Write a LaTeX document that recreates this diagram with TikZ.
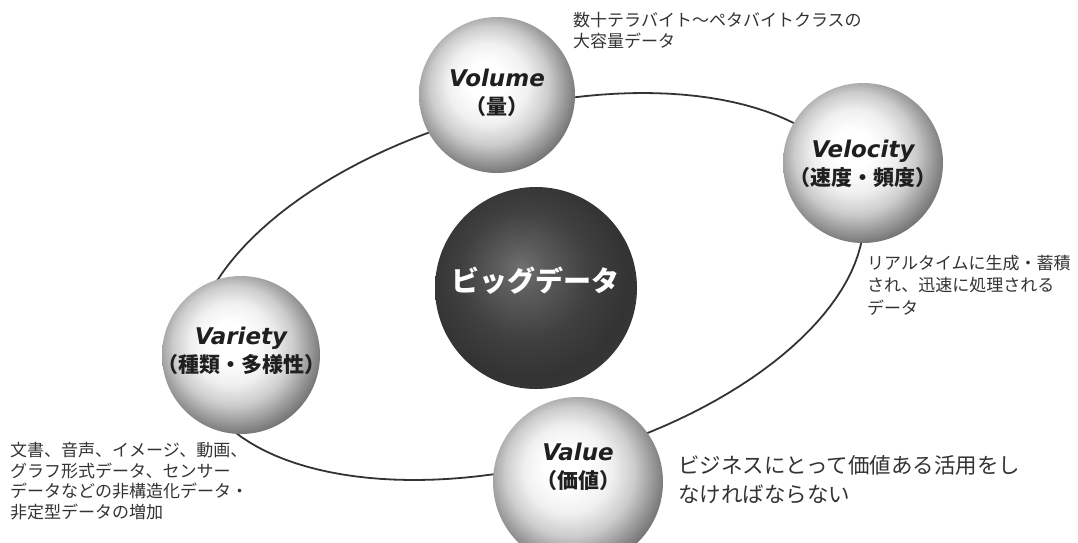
\documentclass[tikz,border=0pt]{standalone}
\usepackage{fontspec}
\newfontfamily\cjk{Noto Sans CJK JP}
\newfontfamily\latsans{DejaVu Sans}

% light glossy sphere: highlight up-left, darker rim, faint reflected light at the far edge
\pgfdeclareradialshading{orb}{\pgfpoint{-4bp}{5bp}}{%
  color(0bp)=(white); color(6bp)=(white); color(13bp)=(black!6);
  color(19bp)=(black!20); color(24bp)=(black!40); color(28bp)=(black!56);
  color(32bp)=(black!46); color(50bp)=(black!46)}
% dark central sphere
\pgfdeclareradialshading{darkorb}{\pgfpoint{-4bp}{5bp}}{%
  color(0bp)=(black!56); color(6bp)=(black!64); color(16bp)=(black!75);
  color(25bp)=(black!80); color(30bp)=(black!78); color(50bp)=(black!78)}

% half-width brackets for the sphere captions
\newcommand\jlp{\makebox[0.45em][r]{（}}
\newcommand\jrp{\makebox[0.45em][l]{）}}
\newcommand\orbtitle[1]{{\latsans\bfseries\itshape\fontsize{23}{28}\selectfont #1}}

\begin{document}
\begin{tikzpicture}[x=1pt,y=-1pt,
  orb/.style={circle, inner sep=0pt, shading=orb},
  darkorb/.style={circle, inner sep=0pt, shading=darkorb},
  orblabel/.style={align=center, inner sep=0pt, text=black!88,
    font=\cjk\bfseries\fontsize{21}{28}\selectfont},
  note/.style={anchor=west, align=left, inner sep=0pt, text=black!80,
    font=\cjk\fontsize{17}{21}\selectfont},
  orbit/.style={line width=1.8pt, black!80}]
\useasboundingbox (0,0) rectangle (1078,542);

% orbit ring behind the spheres
\draw[orbit] plot[domain=0:360, samples=144, variable=\t]
  ({528.5+114.5*cos(\t)+315*sin(\t)}, {286.5-193.5*cos(\t)}) -- cycle;

% spheres
\node[orb, minimum size=156pt] (volume) at (497,95) {};
\node[orb, minimum size=160pt] (velocity) at (863,163) {};
\node[orb, minimum size=158pt] (variety) at (241,355) {};
\node[orb, minimum size=170pt] (value) at (578,482) {};
\node[darkorb, minimum size=202pt] (bigdata) at (536,288) {};

% sphere captions
\node[orblabel] (volumetxt) at ([yshift=2.5pt]volume.center) {\orbtitle{Volume}\\\jlp 量\jrp};
\node[orblabel] (velocitytxt) at ([yshift=-1pt]velocity.center) {\orbtitle{Velocity}\\\jlp 速度・頻度\jrp};
\node[orblabel] (varietytxt) at ([yshift=4pt]variety.center) {\orbtitle{Variety}\\\jlp 種類・多様性\jrp};
\node[orblabel] (valuetxt) at ([yshift=15pt]value.center) {\orbtitle{Value}\\\jlp 価値\jrp};
\node[inner sep=0pt, text=white, font=\cjk\bfseries\fontsize{28}{32}\selectfont]
  (bigdatatxt) at (535,281) {ビッグデータ};

% notes
\node[note] (volumenote) at (573,31) {数十テラバイト～ペタバイトクラスの\\大容量データ};
\node[note, font=\cjk\fontsize{17}{22.5}\selectfont] (velocitynote) at (867,285)
  {リアルタイムに生成・蓄積\\され、迅速に処理される\\データ};
\node[note, font=\cjk\fontsize{17}{20.5}\selectfont] (varietynote) at (10,481)
  {文書、音声、イメージ、動画、\\グラフ形式データ、センサー\\データなどの非構造化データ・\\非定型データの増加};
\node[note, font=\cjk\fontsize{21.5}{29}\selectfont] (valuenote) at (678,480)
  {ビジネスにとって価値ある活用をし\\なければならない};
\end{tikzpicture}
\end{document}
